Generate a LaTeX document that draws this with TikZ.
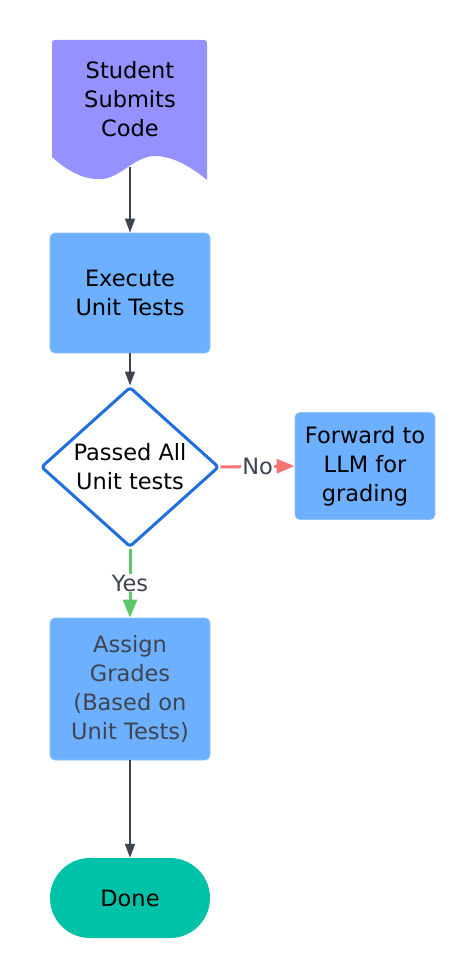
\documentclass[tikz,border=0pt]{standalone}
\usepackage{fontspec}
\setmainfont{DejaVu Sans}
\usetikzlibrary{shapes.geometric,arrows.meta}
\definecolor{docfill}{HTML}{9591FF}
\definecolor{boxfill}{HTML}{6DB0FF}
\definecolor{boxline}{HTML}{8DC2FF}
\definecolor{checkblue}{HTML}{1F6FE0}
\definecolor{linegray}{HTML}{3E4451}
\definecolor{noline}{HTML}{F47474}
\definecolor{yesline}{HTML}{5CC86A}
\definecolor{donefill}{HTML}{00C2A8}
\begin{document}
\begin{tikzpicture}[x=1pt,y=-1pt,line join=round,>={Triangle[width=10pt,length=14pt]},
  txt/.style={font=\fontsize{22.5}{29}\selectfont,align=center,text=black},
  bluebox/.style={txt,rectangle,rounded corners=5pt,fill=boxfill,draw=boxline,line width=0.8pt,inner sep=0pt},
  lbl/.style={txt,text=linegray,fill=white,inner sep=1pt},
  conn/.style={->,draw=linegray,line width=1.5pt},
  noconn/.style={->,draw=noline,line width=3pt,>={Triangle[width=14pt,length=18pt]}},
  yesconn/.style={->,draw=yesline,line width=3pt,>={Triangle[width=14pt,length=18pt]}}]
\useasboundingbox (0,0) rectangle (475,979);

\fill[docfill](52,157)--(52,46)..controls(52,40)..(58,40)--(201,40)..controls(207,40)..(207,46)--(207,180)
  ..controls(195,170)and(175,156)..(155,156)..controls(135,156)and(120,178)..(102,179)
  ..controls(88,180)and(72,175)..(52,157)--cycle;
\node[txt] (submit) at (130,99) {Student\\Submits\\Code};
\coordinate (submitbot) at (130,167);

\node[bluebox,minimum width=160pt,minimum height=120pt] (exec) at (130,293) {Execute\\Unit Tests};
\node[txt,diamond,draw=checkblue,fill=white,line width=3pt,rounded corners=3pt,
  minimum width=178pt,minimum height=160pt,inner sep=0pt] (check) at (130,467) {Passed All\\Unit tests};
\node[bluebox,minimum width=140pt,minimum height=107pt] (forward) at (365,466) {Forward to\\LLM for\\grading};
\node[bluebox,text=linegray,minimum width=160pt,minimum height=142pt] (assign) at (130,689) {Assign\\Grades\\(Based on\\Unit Tests)};
\node[txt,rectangle,rounded corners=40pt,fill=donefill,minimum width=160pt,minimum height=80pt] (done) at (130,898) {Done};

\draw[conn] (submitbot) -- (exec.north);
\draw[conn] (exec.south) -- (check.north);
\draw[noconn] (check.east) -- node[lbl] {No} (forward.west);
\draw[yesconn] (check.south) -- node[lbl] {Yes} (assign.north);
\draw[conn] (assign.south) -- (done.north);
\end{tikzpicture}
\end{document}
